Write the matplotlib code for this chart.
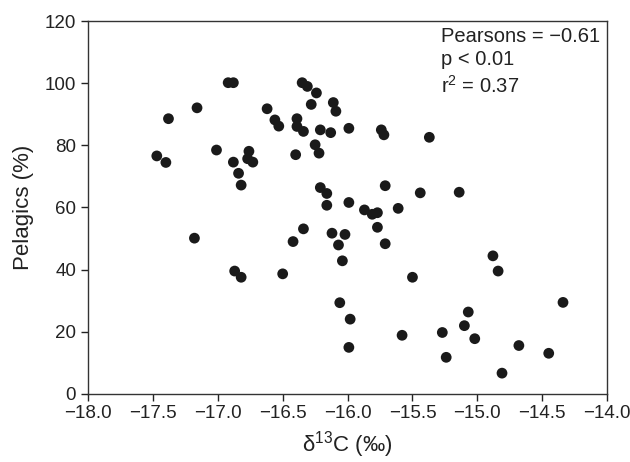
import numpy as np
import matplotlib
matplotlib.use('Agg')
import matplotlib.pyplot as plt

plt.rcParams['font.family'] = ['Liberation Sans', 'DejaVu Sans']
plt.rcParams['mathtext.fontset'] = 'custom'
plt.rcParams['mathtext.rm'] = 'Liberation Sans'
plt.rcParams['mathtext.it'] = 'Liberation Sans:italic'
plt.rcParams['mathtext.default'] = 'regular'

# d13C values (permil) and % pelagics
d13c = [-17.47, -17.40, -17.38, -17.16, -17.01, -16.92, -16.88, -16.88, -16.84, -16.82,
        -16.76, -16.77, -16.73, -16.62, -16.56, -16.53, -16.40, -16.39, -16.39, -16.34,
        -16.35, -16.31, -16.24, -16.28, -16.25, -16.22, -16.21, -16.13, -16.11, -16.09,
        -15.99, -16.21, -16.16, -16.16, -15.99, -15.74, -15.72, -15.37, -15.71, -15.44,
        -15.14, -15.87, -15.81, -15.77, -15.61, -15.77, -15.71, -16.12, -16.02, -16.07,
        -16.04, -15.50, -14.88, -14.84, -16.06, -15.98, -15.99, -15.58, -15.27, -15.24,
        -15.07, -15.10, -15.02, -14.81, -14.68, -14.45, -14.34, -17.18, -16.87, -16.82,
        -16.50, -16.42, -16.34]
pelagics = [76.6, 74.5, 88.6, 92.1, 78.5, 100.2, 100.2, 74.6, 71.0, 67.2,
            78.1, 75.7, 74.6, 91.8, 88.2, 86.2, 77.0, 88.6, 86.1, 84.5,
            100.2, 99.0, 96.9, 93.2, 80.2, 77.5, 85.0, 84.1, 93.8, 91.0,
            85.5, 66.4, 64.5, 60.7, 61.6, 85.0, 83.4, 82.6, 67.0, 64.7,
            64.9, 59.2, 57.8, 58.3, 59.7, 53.6, 48.3, 51.7, 51.3, 47.9,
            42.8, 37.5, 44.4, 39.5, 29.3, 24.0, 14.9, 18.8, 19.7, 11.7,
            26.3, 21.9, 17.7, 6.6, 15.5, 13.0, 29.4, 50.1, 39.5, 37.5,
            38.6, 49.0, 53.1]

xticks = np.arange(-18.0, -13.99, 0.5)
yticks = np.arange(0, 121, 20)

fig = plt.figure(figsize=(6.3, 4.62), dpi=100)
ax = fig.add_axes([0.1397, 0.148, 0.824, 0.806])

ax.scatter(d13c, pelagics, s=60, color='#1a1a1a', edgecolors='none', zorder=3)

ax.set_xlim(-18, -14)
ax.set_ylim(0, 120)
ax.set_xticks(xticks)
ax.set_xticklabels([('%.1f' % t).replace('-', '\u2212') for t in xticks])
ax.set_yticks(yticks)
ax.tick_params(direction='out', length=5, width=1, labelsize=13.5, colors='#222222')
for sp in ax.spines.values():
    sp.set_linewidth(1.0)
    sp.set_color('#333333')

ax.set_xlabel('δ$^{13}$C (‰)', fontsize=16, color='#222222', labelpad=5)
ax.set_ylabel('Pelagics (%)', fontsize=16, color='#222222', labelpad=8)

ax.text(0.68, 0.985, 'Pearsons = \u22120.61\np < 0.01\nr$^{2}$ = 0.37', transform=ax.transAxes,
        ha='left', va='top', fontsize=14.5, color='#222222', linespacing=1.3)

fig.savefig('out.png', dpi=100)
